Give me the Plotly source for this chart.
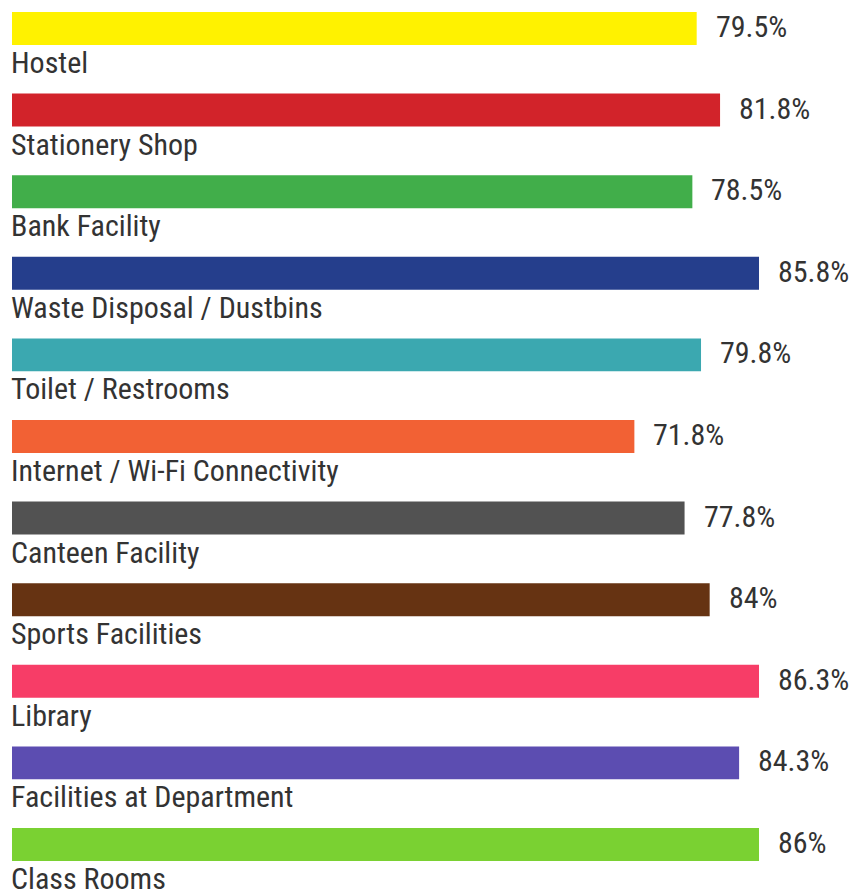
import plotly.graph_objects as go

# ── data (top to bottom) ─────────────────────────────────────────────────────
categories = [
    "Hostel", "Stationery Shop", "Bank Facility", "Waste Disposal / Dustbins",
    "Toilet / Restrooms", "Internet / Wi-Fi Connectivity", "Canteen Facility",
    "Sports Facilities", "Library", "Facilities at Department", "Class Rooms",
]
# bar lengths as drawn in the picture
bar_lengths = [79.1, 81.8, 78.6, 86.3, 79.6, 71.9, 77.7, 80.6, 86.3, 84.0, 86.3]
# value labels as printed next to the bars
value_labels = ["79.5%", "81.8%", "78.5%", "85.8%", "79.8%", "71.8%",
                "77.8%", "84%", "86.3%", "84.3%", "86%"]
colors = ["#FFF200", "#D2232A", "#41AE4A", "#253E8C", "#3BA8B0", "#F26134",
          "#525252", "#663312", "#F73D67", "#5C4DB1", "#7AD132"]

FONT = "Liberation Sans Narrow, Arial Narrow, Roboto Condensed, sans-serif"
TXT = "#333333"

pos = list(range(len(categories)))

fig = go.Figure()
fig.add_trace(go.Bar(
    x=bar_lengths, y=pos,
    orientation="h",
    width=0.404,
    marker=dict(color=colors, line=dict(width=0)),
    hoverinfo="skip",
))

# value labels right of bars
for v, lab, p in zip(bar_lengths, value_labels, pos):
    fig.add_annotation(
        x=v, y=p, text=lab, showarrow=False,
        xanchor="left", yanchor="middle", xshift=17, yshift=2,
        font=dict(family=FONT, size=30, color=TXT),
    )

# category labels under bars
for cat, p in zip(categories, pos):
    fig.add_annotation(
        x=0, y=p + 0.202, text=cat, showarrow=False,
        xanchor="left", yanchor="top", xshift=-3, yshift=2,
        font=dict(family=FONT, size=30, color=TXT),
    )

# page body has an 8px margin, so the figure is a bit smaller than the window
fig.update_layout(
    width=849, height=882,
    margin=dict(l=4, r=0, t=0, b=0),
    plot_bgcolor="white", paper_bgcolor="white",
    showlegend=False,
    xaxis=dict(range=[0, 97.62], visible=False, fixedrange=True),
    yaxis=dict(range=[10.558, -0.251], visible=False, fixedrange=True),
)
fig.write_html("out.html")
